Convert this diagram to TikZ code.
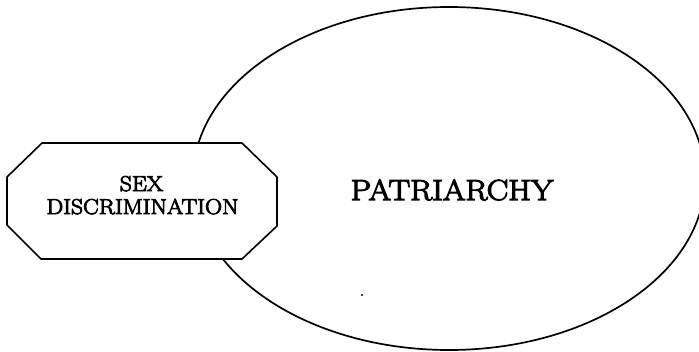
\documentclass[tikz,border=0pt]{standalone}
\usepackage{fontspec}
\newfontfamily\schfont{Latin Modern Roman}[FakeBold=4,FakeStretch=1.1]
\newfontfamily\schbigfont{Latin Modern Roman}[FakeBold=4,FakeStretch=1.12]
\usetikzlibrary{shapes.geometric}
\begin{document}
\begin{tikzpicture}[x=1pt,y=-1pt,
  shapeline/.style={draw=black,line width=1.7pt},
  lbl/.style={inner sep=0pt,anchor=base,font=\schfont\fontsize{21.5}{23}\selectfont},
  biglbl/.style={inner sep=0pt,anchor=base,font=\schbigfont\fontsize{29}{30}\selectfont}]
\useasboundingbox (0,0) rectangle (699,351);
\clip (0,0) rectangle (699,351);
\fill[white] (0,0) rectangle (699,351);
% ellipse
\node[ellipse,shapeline,minimum width=512pt,minimum height=343pt,inner sep=0pt] (pat) at (449,178.5) {};
\node[biglbl] (pattext) at (452,200) {PATRIARCHY};
% octagon
\coordinate (o1) at (42,143);
\coordinate (o2) at (242,143);
\coordinate (o3) at (277,177);
\coordinate (o4) at (277,226);
\coordinate (o5) at (242,259);
\coordinate (o6) at (41,259);
\coordinate (o7) at (7,225);
\coordinate (o8) at (7,177);
\filldraw[fill=white,draw=black,line width=1.6pt,line join=round] (o1) -- (o2) -- (o3) -- (o4) -- (o5) -- (o6) -- (o7) -- (o8) -- cycle;
\node[lbl] (sex) at (141.5,191) {SEX};
\node[lbl] (disc) at (142.5,214) {DISCRIMINATION};
% speck
\fill[black] (362,295) circle (1.2pt);
\end{tikzpicture}
\end{document}
